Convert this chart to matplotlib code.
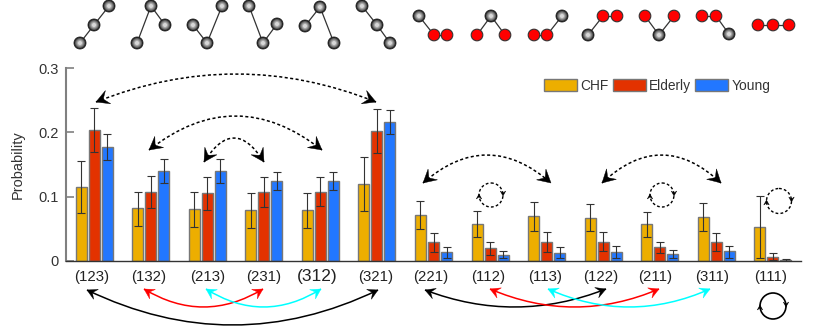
import numpy as np
import matplotlib
matplotlib.use("Agg")
import matplotlib.pyplot as plt
from matplotlib.patches import Circle, PathPatch, Polygon
from matplotlib.path import Path

plt.rcParams["font.family"] = ["Liberation Sans", "DejaVu Sans"]

labels = ["(123)", "(132)", "(213)", "(231)", "(312)", "(321)", "(221)",
          "(112)", "(113)", "(122)", "(211)", "(311)", "(111)"]
label_x = [92, 149, 208, 264, 317, 376, 431, 488, 545, 601, 655, 712, 771]

chf = [.115, .082, .081, .080, .080, .120, .071, .058, .070, .067, .057, .069, .053]
chf_lo = [.075, .054, .053, .052, .052, .078, .049, .037, .047, .046, .037, .047, .005]
chf_hi = [.155, .108, .107, .105, .105, .161, .093, .077, .091, .088, .076, .090, .101]

elderly = [.204, .107, .106, .107, .108, .202, .030, .020, .030, .030, .021, .030, .006]
elderly_lo = [.170, .082, .080, .0845, .086, .1675, .014, .010, .014, .0155, .013, .016, .001]
elderly_hi = [.2375, .132, .130, .130, .130, .237, .0435, .030, .0445, .0445, .029, .043, .012]

young = [.177, .140, .140, .125, .125, .216, .014, .010, .013, .014, .011, .015, .002]
young_lo = [.157, .121, .121, .110, .110, .197, .005, .004, .004, .004, .004, .005, .0005]
young_hi = [.197, .158, .158, .138, .139, .235, .021, .015, .021, .023, .0175, .023, .0035]

series = [("CHF", chf, chf_lo, chf_hi, "#EDAE00"),
          ("Elderly", elderly, elderly_lo, elderly_hi, "#E33200"),
          ("Young", young, young_lo, young_hi, "#2277FF")]

# network icons in pixels: three nodes, two edges, red flags
icons = [
    ([(80, 43), (94, 25), (109, 6)], [(0, 1), (1, 2)], []),
    ([(137, 43), (151, 6), (165, 25)], [(0, 1), (1, 2)], []),
    ([(193, 25), (207, 43), (222, 6)], [(0, 1), (1, 2)], []),
    ([(249, 6), (263, 43), (277, 24)], [(0, 1), (1, 2)], []),
    ([(305, 26), (320, 7), (334, 43)], [(0, 1), (1, 2)], []),
    ([(362, 6), (377, 25), (390, 43)], [(0, 1), (1, 2)], []),
    ([(419, 16), (434, 35), (447, 35)], [(0, 1), (1, 2)], [1, 2]),
    ([(477, 35), (491, 16), (505, 35)], [(0, 1), (1, 2)], [0, 2]),
    ([(534, 35), (547, 35), (562, 16)], [(0, 1), (1, 2)], [0, 1]),
    ([(588, 35), (603, 16), (617, 16)], [(0, 1), (1, 2)], [1, 2]),
    ([(645, 16), (659, 35), (674, 16)], [(0, 1), (1, 2)], [0, 2]),
    ([(702, 16), (716, 16), (729, 34)], [(0, 1), (1, 2)], [0, 1]),
    ([(758, 25), (773, 25), (789, 25)], [(0, 1), (1, 2)], [0, 1, 2]),
]

# arc arrows in pixels: start tip, end tip, lowest/highest point of the arc
dotted_arcs = [((96, 102), (376, 102), 74), ((149, 150), (322, 150), 116),
               ((204, 162), (264, 162), 138), ((423, 183), (551, 183), 155),
               ((602, 183), (721, 183), 155)]
solid_arcs = [((87, 290), (378, 290), 325, "black"), ((144, 289), (263, 289), 307, "red"),
              ((206, 289), (321, 289), 307, "cyan"), ((425, 290), (606, 289), 307, "black"),
              ((490, 289), (659, 289), 307, "red"), ((548, 289), (710, 289), 307, "cyan")]
dotted_loops = [(491, 195, 12), (662, 195, 12), (779, 201, 12.5)]


def stealth(ax, tip, direction, size, color):
    d = np.asarray(direction, float)
    d = d / np.hypot(*d)
    n = np.array([-d[1], d[0]])
    tip = np.asarray(tip, float)
    pts = [tip, tip - d * size + n * size * 0.55, tip - d * size * 0.6, tip - d * size - n * size * 0.55]
    ax.add_patch(Polygon(pts, closed=True, fc=color, ec=color, lw=0.3, zorder=5))


def arc(ax, p0, p1, extreme, color, lw, ls, head):
    mid_y = (p0[1] + p1[1]) / 2
    ctrl = ((p0[0] + p1[0]) / 2, 2 * extreme - mid_y)
    path = Path([p0, ctrl, p1], [Path.MOVETO, Path.CURVE3, Path.CURVE3])
    ax.add_patch(PathPatch(path, fc="none", ec=color, lw=lw, ls=ls, zorder=4))
    stealth(ax, p0, (p0[0] - ctrl[0], p0[1] - ctrl[1]), head, color)
    stealth(ax, p1, (p1[0] - ctrl[0], p1[1] - ctrl[1]), head, color)


def loop(ax, cx, cy, r, ls, lw, head):
    ax.add_patch(Circle((cx, cy), r, fc="none", ec="black", lw=lw, ls=ls, zorder=4))
    stealth(ax, (cx + r, cy + 1), (0, 1), head, "black")
    stealth(ax, (cx - r, cy - 1), (0, -1), head, "black")


def draw_node(ax, x, y, red):
    if red:
        ax.add_patch(Circle((x, y), 5.8, fc="#FF0000", ec="#333333", lw=0.8, zorder=3))
        return
    ax.add_patch(Circle((x, y), 6.0, fc="#1E1E1E", ec="#1E1E1E", lw=0.6, zorder=3))
    for r, c in zip([5.0, 4.0, 3.0, 2.0], ["#5C5C5C", "#848484", "#ACACAC", "#D8D8D8"]):
        ax.add_patch(Circle((x, y), r, fc=c, ec="none", zorder=3))


fig = plt.figure(figsize=(8.18, 3.27), dpi=100)
ax = fig.add_axes([66 / 818, 66 / 327, 735 / 818, 193 / 327])

x = np.arange(len(labels))
bar_w = 0.195
step = 0.23
for k, (name, vals, lo, hi, color) in enumerate(series):
    vals = np.array(vals)
    err = [vals - np.array(lo), np.array(hi) - vals]
    ax.bar(x + (k - 1) * step, vals, bar_w, color=color, edgecolor="#777777", linewidth=1.0, label=name)
    ax.errorbar(x + (k - 1) * step, vals, yerr=err, fmt="none", ecolor="#333333",
                elinewidth=0.8, capsize=3, capthick=0.8)

ax.set_xlim(-0.5, 12.5)
ax.set_ylim(0, 0.3)
ax.set_xticks([])
ax.set_yticks([0, 0.1, 0.2, 0.3])
ax.set_yticklabels(["0", "0.1", "0.2", "0.3"], fontsize=10.5, color="#333333")
ax.tick_params(axis="y", direction="in", length=6, width=1.2, color="#808080", pad=5)
ax.set_ylabel("Probability", fontsize=10.5, color="#333333", labelpad=10)
ax.patch.set_alpha(0)
for side in ["top", "right"]:
    ax.spines[side].set_visible(False)
ax.spines["left"].set_color("#808080")
ax.spines["left"].set_linewidth(1.5)
ax.spines["bottom"].set_color("#333333")
ax.spines["bottom"].set_linewidth(1.0)

ax.legend(loc="upper left", bbox_to_anchor=(478 / 735, 1 - 11 / 193), ncol=3, frameon=False,
          fontsize=9.9, labelcolor="#333333", handlelength=2.4, handleheight=0.95,
          handletextpad=0.25, columnspacing=0.3, borderpad=0, borderaxespad=0)

# overlay in image pixels for the icons, arcs and group labels
over = fig.add_axes([0, 0, 1, 1], zorder=10)
over.set_xlim(0, 818)
over.set_ylim(327, 0)
over.axis("off")

for nodes, edges, reds in icons:
    for a, b in edges:
        over.plot([nodes[a][0], nodes[b][0]], [nodes[a][1], nodes[b][1]], color="#333333", lw=0.9, zorder=2)
    for i, (nx, ny) in enumerate(nodes):
        draw_node(over, nx, ny, i in reds)

for p0, p1, extreme in dotted_arcs:
    arc(over, p0, p1, extreme, "black", 1.1, (0, (2, 1.6)), 13)
for p0, p1, extreme, color in solid_arcs:
    arc(over, p0, p1, extreme, color, 1.1, "-", 10)
for cx, cy, r in dotted_loops:
    loop(over, cx, cy, r, (0, (2, 1.6)), 1.0, 5)
loop(over, 773, 306, 13, "-", 1.2, 5)

for name, lx in zip(labels, label_x):
    size = 12.5 if name == "(312)" else 10.8
    over.text(lx, 277, name, ha="center", va="center", fontsize=size, color="#222222")

fig.savefig("out.png", dpi=100)
